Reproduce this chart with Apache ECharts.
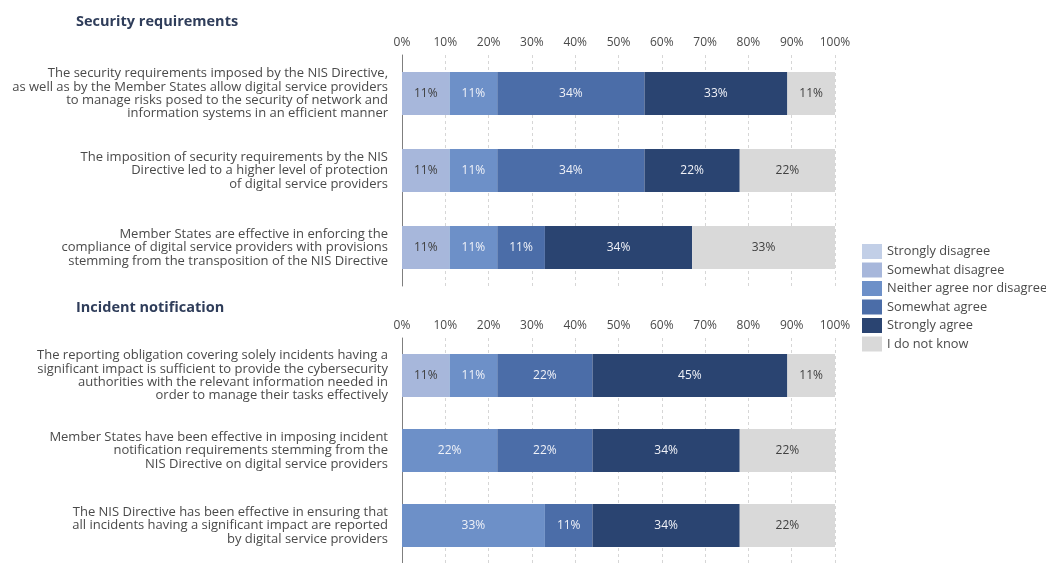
<!DOCTYPE html>
<html>
<head>
<meta charset="utf-8">
<script src="https://cdn.jsdelivr.net/npm/echarts@6/dist/echarts.min.js"></script>
<style>
  html, body { margin: 0; padding: 0; background: #ffffff; }
  #chart { width: 1046px; height: 563px; }
</style>
</head>
<body>
<div id="chart"></div>
<script>
// Survey answers on the NIS Directive, shares of respondents (%)
const responseLevels = ['Strongly disagree', 'Somewhat disagree', 'Neither agree nor disagree', 'Somewhat agree', 'Strongly agree', 'I do not know'];
const levelColors = ['#c2cfe7', '#a7b7db', '#6d90c8', '#4b6da8', '#2a4471', '#d9d9d9'];
const levelLabelColors = ['#404040', '#404040', '#f0f2f8', '#f0f2f8', '#f0f2f8', '#404040'];

const tickValues = [0, 10, 20, 30, 40, 50, 60, 70, 80, 90, 100];

const sectionTitles = ['Security requirements', 'Incident notification'];

const securityStatements = [
  'The security requirements imposed by the NIS Directive,\nas well as by the Member States allow digital service providers\nto manage risks posed to the security of network and\ninformation systems in an efficient manner',
  'The imposition of security requirements by the NIS\nDirective led to a higher level of protection\nof digital service providers',
  'Member States are effective in enforcing the\ncompliance of digital service providers with provisions\nstemming from the transposition of the NIS Directive'
];
const incidentStatements = [
  'The reporting obligation covering solely incidents having a\nsignificant impact is sufficient to provide the cybersecurity\nauthorities with the relevant information needed in\norder to manage their tasks effectively',
  'Member States have been effective in imposing incident\nnotification requirements stemming from the\nNIS Directive on digital service providers',
  'The NIS Directive has been effective in ensuring that\nall incidents having a significant impact are reported\nby digital service providers'
];

// one array per answer level, one value per statement
const securityStronglyDisagree = [0, 0, 0];
const securitySomewhatDisagree = [11, 11, 11];
const securityNeither = [11, 11, 11];
const securitySomewhatAgree = [34, 34, 11];
const securityStronglyAgree = [33, 22, 34];
const securityDontKnow = [11, 22, 33];

const incidentStronglyDisagree = [0, 0, 0];
const incidentSomewhatDisagree = [11, 0, 0];
const incidentNeither = [11, 22, 33];
const incidentSomewhatAgree = [22, 22, 11];
const incidentStronglyAgree = [45, 34, 34];
const incidentDontKnow = [11, 22, 22];

const securityByLevel = [securityStronglyDisagree, securitySomewhatDisagree, securityNeither, securitySomewhatAgree, securityStronglyAgree, securityDontKnow];
const incidentByLevel = [incidentStronglyDisagree, incidentSomewhatDisagree, incidentNeither, incidentSomewhatAgree, incidentStronglyAgree, incidentDontKnow];

const FONT = '"Open Sans", "Liberation Sans", sans-serif';
const TEXT = '#4a4a4a';

function makeXAxis(gridIndex) {
  return {
    type: 'value', gridIndex: gridIndex, position: 'top',
    min: tickValues[0], max: tickValues[tickValues.length - 1], interval: 10,
    axisLine: { show: false }, axisTick: { show: false },
    axisLabel: { formatter: '{value}%', color: TEXT, fontSize: 12, fontFamily: FONT, margin: 6 },
    splitLine: { show: true, lineStyle: { color: '#d6d6d6', type: [3, 3], width: 1 } }
  };
}
function makeYAxis(gridIndex, cats) {
  return {
    type: 'category', gridIndex: gridIndex, inverse: true, data: cats,
    axisLine: { show: true, lineStyle: { color: '#7f7f7f', width: 1 } },
    axisTick: { show: false },
    axisLabel: { color: TEXT, fontSize: 13, fontFamily: FONT, lineHeight: 13.3, margin: 14, align: 'right', padding: [0, 0, 4, 0] }
  };
}
function makeSeries(gridIndex, byLevel) {
  return responseLevels.map((name, i) => ({
    name: name, type: 'bar', stack: 'g' + gridIndex,
    xAxisIndex: gridIndex, yAxisIndex: gridIndex,
    barWidth: 43,
    data: byLevel[i],
    itemStyle: { color: levelColors[i] },
    label: {
      show: true, position: 'inside', fontSize: 12, fontFamily: FONT, color: levelLabelColors[i],
      formatter: p => (p.value > 0 ? p.value + '%' : '')
    },
    emphasis: { disabled: true }
  }));
}

const chart = echarts.init(document.getElementById('chart'), null, { renderer: 'canvas' });
chart.setOption({
  animation: false,
  backgroundColor: '#ffffff',
  title: [
    { text: sectionTitles[0], left: 71, top: 9, textStyle: { fontSize: 14.5, fontWeight: 'bold', color: '#2f3d5a', fontFamily: FONT } },
    { text: sectionTitles[1], left: 71, top: 295, textStyle: { fontSize: 14.5, fontWeight: 'bold', color: '#2f3d5a', fontFamily: FONT } }
  ],
  legend: {
    orient: 'vertical', left: 857, top: 239,
    itemWidth: 20, itemHeight: 15, itemGap: 3.5,
    icon: 'rect',
    data: responseLevels,
    textStyle: { color: TEXT, fontSize: 12.8, fontFamily: FONT }
  },
  grid: [
    { left: 402, top: 55, width: 433, height: 231 },
    { left: 402, top: 338, width: 433, height: 231 }
  ],
  xAxis: [makeXAxis(0), makeXAxis(1)],
  yAxis: [makeYAxis(0, securityStatements), makeYAxis(1, incidentStatements)],
  series: [...makeSeries(0, securityByLevel), ...makeSeries(1, incidentByLevel)]
});
</script>
</body>
</html>
